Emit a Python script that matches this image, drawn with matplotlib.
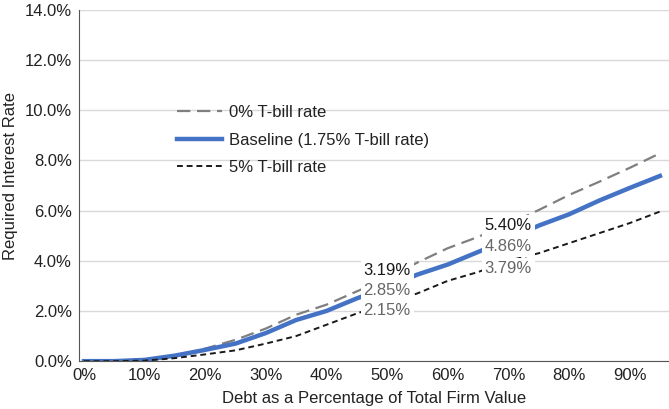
import matplotlib.pyplot as plt
import numpy as np

plt.rcParams['font.family'] = ['Liberation Sans', 'DejaVu Sans']

# debt share of firm value (fraction)
debt_share = [0.00, 0.05, 0.10, 0.15, 0.20, 0.25, 0.30, 0.35, 0.40, 0.45,
              0.50, 0.55, 0.60, 0.65, 0.70, 0.75, 0.80, 0.85, 0.90, 0.95]
# required interest rate, percent
rate_0 = [0, 0, 0.05, 0.20, 0.50, 0.85, 1.30, 1.85, 2.25, 2.78,
          3.30, 3.93, 4.50, 4.95, 5.45, 6.02, 6.62, 7.15, 7.70, 8.28]
rate_base = [0, 0, 0.05, 0.22, 0.45, 0.70, 1.12, 1.64, 2.00, 2.50,
             2.95, 3.45, 3.85, 4.35, 4.85, 5.40, 5.85, 6.40, 6.90, 7.38]
rate_5 = [0, 0, 0.02, 0.12, 0.27, 0.43, 0.70, 1.00, 1.45, 1.90,
          2.30, 2.70, 3.20, 3.55, 4.00, 4.30, 4.70, 5.10, 5.50, 5.96]

x_ticks = [0.0, 0.1, 0.2, 0.3, 0.4, 0.5, 0.6, 0.7, 0.8, 0.9]
y_ticks = [0, 2, 4, 6, 8, 10, 12, 14]

# callout labels: (x, y, text, colour)
callouts = [
    (0.50, 3.60, "3.19%", "#1a1a1a"),
    (0.50, 2.83, "2.85%", "#666666"),
    (0.50, 2.01, "2.15%", "#666666"),
    (0.70, 5.40, "5.40%", "#1a1a1a"),
    (0.70, 4.56, "4.86%", "#666666"),
    (0.70, 3.71, "3.79%", "#666666"),
]

fig = plt.figure(figsize=(6.69, 4.09), dpi=100)
ax = fig.add_axes([0.118, 0.117, 0.882, 0.859])

ax.plot(debt_share, rate_0, color="#7f7f7f", lw=1.6, dashes=(6, 3),
        label="0% T-bill rate")
ax.plot(debt_share, rate_base, color="#4472c4", lw=3.2,
        label="Baseline (1.75% T-bill rate)")
ax.plot(debt_share, rate_5, color="#1a1a1a", lw=1.4, dashes=(3, 2),
        label="5% T-bill rate")

for x, y, s, c in callouts:
    ax.text(x, y, s, color=c, fontsize=12, ha="center", va="center", zorder=5,
            bbox=dict(facecolor="white", edgecolor="none", pad=2.0))

ax.set_xlim(-0.0083, 0.965)
ax.set_ylim(0, 14)
ax.set_xticks(x_ticks)
ax.set_xticklabels([f"{int(round(t * 100))}%" for t in x_ticks])
ax.set_yticks(y_ticks)
ax.set_yticklabels([f"{t:.1f}%" for t in y_ticks])
ax.tick_params(length=0, labelsize=12, colors="#222222", pad=5)
ax.grid(axis="y", color="#d9d9d9", lw=1)
ax.set_axisbelow(True)
for s in ["top", "right"]:
    ax.spines[s].set_visible(False)
for s in ["left", "bottom"]:
    ax.spines[s].set_color("#555555")

ax.set_xlabel("Debt as a Percentage of Total Firm Value", fontsize=12,
              color="#222222", labelpad=6)
ax.set_ylabel("Required Interest Rate", fontsize=12, color="#222222",
              labelpad=5)
ax.yaxis.set_label_coords(-0.104, 0.526)

ax.legend(loc="upper left", bbox_to_anchor=(0.141, 0.771), frameon=False,
          fontsize=12, handlelength=2.7, handletextpad=0.4,
          labelspacing=0.75, labelcolor="#222222")

fig.savefig("out.png", dpi=100)
